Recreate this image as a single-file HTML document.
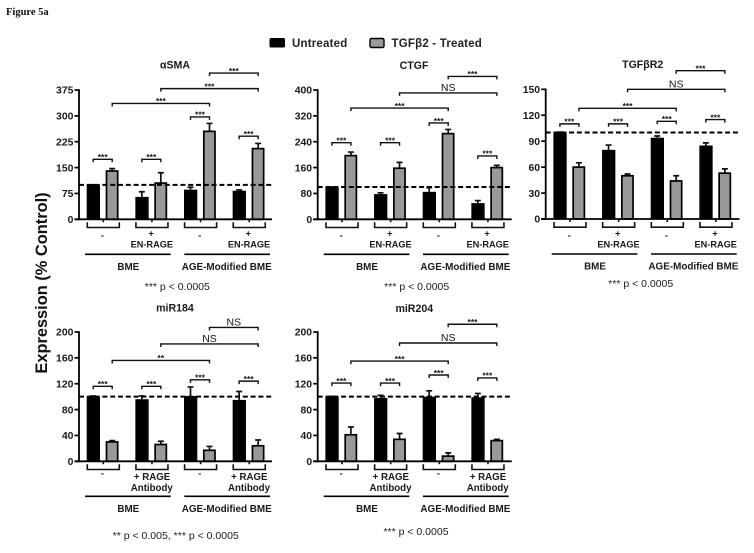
<!DOCTYPE html>
<html lang="en">
<head>
<meta charset="utf-8">
<title>Figure 5a</title>
<style>
html,body{margin:0;padding:0;background:#fff;width:754px;height:553px;overflow:hidden}
svg{display:block;font-family:"Liberation Sans",sans-serif;filter:blur(.35px)}
</style>
</head>
<body>
<svg id="fig" xmlns="http://www.w3.org/2000/svg" width="754" height="553" viewBox="0 0 754 553">
  <text x="6" y="15" font-family="Liberation Serif, serif" font-weight="bold" font-size="10.5" fill="#111">Figure 5a</text>
  <text transform="translate(47,283) rotate(-90)" text-anchor="middle" font-weight="bold" font-size="16.4" fill="#111">Expression (% Control)</text>
  <g>
    <rect x="269.5" y="38" width="15.5" height="9.5" rx="1.5" fill="#000"/>
    <text x="292" y="47" font-weight="bold" font-size="11.5" letter-spacing=".2" fill="#222">Untreated</text>
    <rect x="370" y="38.5" width="14" height="9" rx="1.5" fill="#999" stroke="#000" stroke-width="1.4"/>
    <text x="391.5" y="47" font-weight="bold" font-size="11.5" letter-spacing=".2" fill="#222">TGFβ2 - Treated</text>
  </g>
</svg>
<script>
// Bar order: BME-, BME+ , AGE-, AGE+ ; each untreated then treated
const smaValues = [100, 140, 65, 105, 86, 255, 83, 205];
const smaErrors = [100, 147, 80, 135, 93, 278, 85, 220];
const smaTicks = [0, 75, 150, 225, 300, 375];
const smaBrackets = [[0,1,174,'***'],[2,3,174,'***'],[4,5,297,'***'],[6,7,241,'***'],[1,5,336,'***'],[3,7,379,'***'],[5,7,424,'***']];

const ctgfValues = [100, 197, 78, 158, 85, 265, 50, 160];
const ctgfErrors = [100, 208, 82, 176, 98, 278, 58, 167];
const ctgfTicks = [0, 80, 160, 240, 320, 400];
const ctgfBrackets = [[0,1,237,'***'],[2,3,237,'***'],[4,5,298,'***'],[6,7,196,'***'],[1,5,344,'***'],[3,7,391,'NS'],[5,7,442,'***']];

const tgfbr2Values = [100, 60, 80, 50, 94, 44, 85, 53];
const tgfbr2Errors = [100.5, 65, 85.5, 52, 96, 50, 88, 58];
const tgfbr2Ticks = [0, 30, 60, 90, 120, 150];
const tgfbr2Brackets = [[0,1,110,'***'],[2,3,110,'***'],[4,5,113,'***'],[6,7,115,'***'],[1,5,128,'***'],[3,7,150,'NS'],[5,7,171.5,'***']];

const mir184Values = [100, 30, 96, 26, 101, 17, 95, 24];
const mir184Errors = [101, 32, 101, 31, 115, 23, 108, 33];
const mir184Ticks = [0, 40, 80, 120, 160, 200];
const mir184Brackets = [[0,1,116,'***'],[2,3,116,'***'],[4,5,126,'***'],[6,7,124,'***'],[1,5,156,'**'],[3,7,181.5,'NS'],[5,7,207,'NS']];

const mir204Values = [100, 41, 98, 34, 100, 8, 99, 32];
const mir204Errors = [100.5, 53, 102, 43, 109, 13, 105, 34];
const mir204Ticks = [0, 40, 80, 120, 160, 200];
const mir204Brackets = [[0,1,121,'***'],[2,3,121,'***'],[4,5,133.5,'***'],[6,7,129,'***'],[1,5,155,'***'],[3,7,183,'NS'],[5,7,212,'***']];

const referenceLevel = 100;
const matrixLabels = ['BME', 'AGE-Modified BME'];

const panels = [
  {key:'sma', title:'αSMA', values:smaValues, errors:smaErrors, ticks:smaTicks, brackets:smaBrackets, x0:79, zero:219.3, h:129.3, end:272, titleX:175, titleY:64.5, note:'*** p < 0.0005', noteX:177.3, noteDy:67, treat:['EN-RAGE']},
  {key:'ctgf', title:'CTGF', values:ctgfValues, errors:ctgfErrors, ticks:ctgfTicks, brackets:ctgfBrackets, x0:317.7, zero:219.3, h:129.3, end:511.7, titleX:414, titleY:65, note:'*** p < 0.0005', noteX:416.7, noteDy:67, treat:['EN-RAGE']},
  {key:'tgfbr2', title:'TGFβR2', values:tgfbr2Values, errors:tgfbr2Errors, ticks:tgfbr2Ticks, brackets:tgfbr2Brackets, x0:545.7, zero:219, h:129.7, end:739.5, titleX:642.7, titleY:64, note:'*** p < 0.0005', noteX:640.7, noteDy:64, treat:['EN-RAGE']},
  {key:'mir184', title:'miR184', values:mir184Values, errors:mir184Errors, ticks:mir184Ticks, brackets:mir184Brackets, x0:79, zero:461.3, h:129.3, end:272, titleX:175, titleY:307.5, note:'** p < 0.005, *** p < 0.0005', noteX:175.7, noteDy:74, treat:['RAGE','Antibody']},
  {key:'mir204', title:'miR204', values:mir204Values, errors:mir204Errors, ticks:mir204Ticks, brackets:mir204Brackets, x0:317.7, zero:461.3, h:129.3, end:511.7, titleX:414.3, titleY:308, note:'*** p < 0.0005', noteX:416, noteDy:70, treat:['RAGE','Antibody']}
];

const NS = 'http://www.w3.org/2000/svg';
const root = document.getElementById('fig');

function mk(parent, tag, attrs, content) {
  const el = document.createElementNS(NS, tag);
  for (const k in attrs) el.setAttribute(k, attrs[k]);
  if (content !== undefined) el.textContent = content;
  parent.appendChild(el);
  return el;
}
function line(parent, x1, y1, x2, y2, w, extra) {
  return mk(parent, 'line', Object.assign({x1:x1, y1:y1, x2:x2, y2:y2, stroke:'#000', 'stroke-width':w}, extra || {}));
}
function path(parent, d, w) {
  return mk(parent, 'path', {d:d, fill:'none', stroke:'#111', 'stroke-width':w});
}
function label(parent, x, cy, str, size, weight, anchor) {
  return mk(parent, 'text', {x:x, y:cy + size * 0.36, 'font-size':size, 'font-weight':weight || 'bold', 'text-anchor':anchor || 'middle', fill:'#1a1a1a'}, str);
}

panels.forEach(function (p) {
  const yScale = function (v) { return p.zero - v / p.ticks[p.ticks.length - 1] * p.h; };
  const barLeft = function (i) {
    const g = Math.floor(i / 2);
    return p.x0 + 7.7 + g * 48.65 + (i % 2) * 19;
  };
  const barCenter = function (i) { return barLeft(i) + 6.5; };

  const g = mk(root, 'g', {});
  
  

  const title = label(g, p.titleX, p.titleY, p.title, 10.6, 'bold');
  
  

  // bars and error bars
  p.values.forEach(function (v, i) {
    const x = barLeft(i), top = yScale(v), c = barCenter(i), errY = yScale(p.errors[i]);
    const err = path(g, 'M' + c + ' ' + top + 'V' + errY + 'M' + (c - 3) + ' ' + errY + 'H' + (c + 3), 1.7);
    
    
    const treated = i % 2 === 1;
    const bar = treated
      ? mk(g, 'rect', {x:x + 0.8, y:top, width:11.2, height:p.zero - top, fill:'#999', stroke:'#000', 'stroke-width':1.7})
      : mk(g, 'rect', {x:x, y:top, width:13.3, height:p.zero - top, fill:'#000'});
    
    
  });

  // axes
  const yAxis = line(g, p.x0, yScale(p.ticks[p.ticks.length - 1]) - 0.8, p.x0, p.zero + 0.8, 1.8);
  
  
  const xAxis = line(g, p.x0 - 4.5, p.zero, p.end, p.zero, 1.8);
  
  
  p.ticks.forEach(function (t) {
    const y = yScale(t);
    const tick = line(g, p.x0 - 4.5, y, p.x0, y, 1.7);
    
    
    const tl = label(g, p.x0 - 5.6, y, String(t), 10.4, 'bold', 'end');
    
    
  });

  // reference line
  const ref = line(g, p.x0, yScale(referenceLevel), p.end + 0.5, yScale(referenceLevel), 2, {'stroke-dasharray':'5 2.8'});
  
  

  // significance brackets
  p.brackets.forEach(function (b) {
    const y = yScale(b[2]), a = barCenter(b[0]), z = barCenter(b[1]);
    const br = path(g, 'M' + a + ' ' + (y + 3) + 'V' + y + 'H' + z + 'V' + (y + 3), 1.4);
    
    
    const isNS = b[3] === 'NS';
    const s = mk(g, 'text', {x:(a + z) / 2, y:isNS ? y - 2 : y + 0.8, 'text-anchor':'middle', 'font-size':isNS ? 10.5 : 8.5, 'font-weight':isNS ? 'normal' : 'bold', fill:'#111'}, b[3]);
    
    
  });

  // x-axis condition brackets and labels
  for (let k = 0; k < 4; k++) {
    const l = p.x0 + 8.3 + k * 48.65, r = l + 32, c = p.x0 + 23.5 + k * 48.6;
    const cb = path(g, 'M' + l + ' ' + (p.zero + 3) + 'V' + (p.zero + 8.2) + 'H' + r + 'V' + (p.zero + 3) + 'M' + ((l + r) / 2) + ' ' + p.zero + 'V' + (p.zero + 3), 1.6);
    
    
    if (k % 2 === 0) {
      const m = label(g, c, p.zero + (p.treat.length === 2 ? 12 : 16), '-', 9.5, 'bold');
      
      
    } else if (p.treat.length === 2) {
      const a = label(g, c + 1, p.zero + 15.4, '+ ' + p.treat[0], 9.7, 'bold');
      
      
      const bb = label(g, c + 0.7, p.zero + 26.4, p.treat[1], 9.7, 'bold');
      
      
    } else {
      const a = label(g, c, p.zero + 14, '+', 9.5, 'bold');
      
      
      const bb = label(g, c + 0.7, p.zero + 25, p.treat[0], 9.2, 'bold');
      
      
    }
  }

  // matrix groups
  const m1 = line(g, p.x0 + 6, p.zero + 35, p.x0 + 91.7, p.zero + 35, 1.6);
  
  
  const m2 = line(g, p.x0 + 105.3, p.zero + 35, p.x0 + 191, p.zero + 35, 1.6);
  
  
  const t1 = label(g, p.x0 + 49.3, p.zero + 47, matrixLabels[0], 9.8, 'bold');
  
  
  const t2 = label(g, p.x0 + 147.7, p.zero + 47, matrixLabels[1], 9.9, 'bold');
  
  

  const note = label(g, p.noteX, p.zero + p.noteDy, p.note, 10.5, 'normal');
  
  
});
</script>
</body>
</html>
